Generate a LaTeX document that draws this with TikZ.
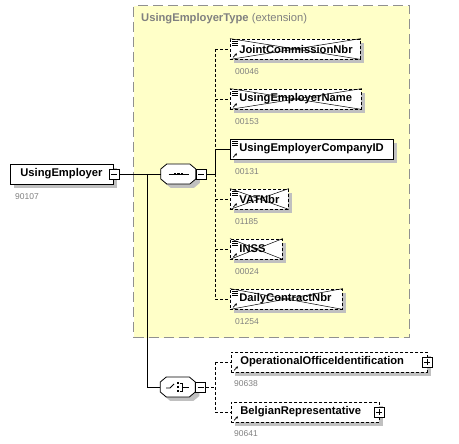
\documentclass[tikz,border=0pt]{standalone}
\usepackage{fontspec}
\setmainfont{Liberation Sans}
\usetikzlibrary{shadows,calc,arrows.meta}
\definecolor{ybg}{HTML}{FFFFC8}
\definecolor{shadowgray}{HTML}{C0C0C0}
\definecolor{numgray}{HTML}{808080}
\definecolor{framegray}{HTML}{909090}
\tikzset{
  elem/.style={draw, fill=white, line width=0.8pt, minimum height=20pt, inner xsep=0pt, inner ysep=0pt,
    anchor=west, align=left, font=\bfseries\fontsize{11.2}{13}\selectfont,
    drop shadow={shadow xshift=4pt, shadow yshift=-4pt, fill=shadowgray, opacity=1}},
  opt/.style={elem, dash pattern=on 3pt off 2pt},
  num/.style={anchor=west, inner sep=0pt, text=numgray, font=\fontsize{8.5}{10}\selectfont},
  pmbox/.style={draw, fill=white, minimum size=10pt, inner sep=0pt, line width=0.6pt},
  minusbox/.style={pmbox, path picture={\draw[line width=0.6pt] ([xshift=2pt]path picture bounding box.west) -- ([xshift=-2pt]path picture bounding box.east);}},
  plusbox/.style={pmbox, path picture={\draw[line width=0.6pt] ([xshift=2pt]path picture bounding box.west) -- ([xshift=-2pt]path picture bounding box.east) ([yshift=-2pt]path picture bounding box.north) -- ([yshift=2pt]path picture bounding box.south);}},
  conn/.style={line width=0.8pt},
  dconn/.style={line width=0.8pt, dash pattern=on 3pt off 2pt},
  cross/.style={line width=0.5pt},
  comp/.style={minimum width=35pt, minimum height=20pt, inner sep=0pt},
}
\newcommand\lines[1]{%
  \draw[line width=0.5pt] ([shift={(2,3)}]#1.north west) -- ++(6,0) ([shift={(2,5)}]#1.north west) -- ++(6,0) ([shift={(2,7)}]#1.north west) -- ++(6,0);}
\newcommand\refarrow[1]{%
  \draw[line width=0.7pt, -{Stealth[length=2.5pt,width=2.5pt]}] ([shift={(3,-2)}]#1.south west) -- ++(4,-4);}
\newcommand\crossout[1]{%
  \draw[cross] (#1.north west) -- (#1.south east) (#1.south west) -- (#1.north east);}
\newcommand\octa[2]{%
  \path[fill=shadowgray] ([shift={(4,4)}]#1.west) ++(0,-5) -- ++(6,-5) -- ++(23,0) -- ++(6,5) -- ++(0,10) -- ++(-6,5) -- ++(-23,0) -- ++(-6,-5) -- cycle;
  \draw[fill=white, line width=0.8pt] (#1.west) ++(0,-5) -- ++(6,-5) -- ++(23,0) -- ++(6,5) -- ++(0,10) -- ++(-6,5) -- ++(-23,0) -- ++(-6,-5) -- cycle;}
\begin{document}
\begin{tikzpicture}[x=1pt,y=-1pt]
\useasboundingbox (0,0) rectangle (459,444);
% extension frame
\node[draw=framegray, fill=ybg, line width=1.3pt, dash pattern=on 10pt off 5pt, minimum width=276pt, minimum height=332pt, inner sep=0pt, anchor=north west] (ext) at (133,5) {};
\node[anchor=west, inner sep=0pt, text=numgray, font=\fontsize{11.2}{13}\selectfont] (title) at (141,19) {\textbf{UsingEmployerType} (extension)};

% root element
\node[elem, text width=103pt] (ue) at (10,174) {\hspace*{10pt}UsingEmployer};
\node[num] (uen) at ([shift={(5,12)}]ue.south west) {90107};
\node[minusbox] (uem) at (ue.east) {};

% compositors
\node[comp] (seq) at (178.5,174) {};
\octa{seq}{}
\node[minusbox] (seqm) at ([xshift=5pt]seq.east) {};
\draw[line width=0.8pt] ([xshift=-10pt]seq.center) -- ([xshift=10pt]seq.center);
\fill ([shift={(-4.8,-1.3)}]seq.center) rectangle ++(2.6,2.6);
\fill ([shift={(-1.3,-1.3)}]seq.center) rectangle ++(2.6,2.6);
\fill ([shift={(2.2,-1.3)}]seq.center) rectangle ++(2.6,2.6);

\node[comp] (cho) at (178,387) {};
\octa{cho}{}
\node[minusbox] (chom) at ([xshift=5pt]cho.east) {};
\draw[line width=0.8pt] ([shift={(-12,1)}]cho.center) -- ++(4,0) -- ++(4,-4);
\fill ([shift={(-1.3,-5.3)}]cho.center) rectangle ++(2.6,2.6);
\fill ([shift={(-1.3,-1.3)}]cho.center) rectangle ++(2.6,2.6);
\fill ([shift={(-1.3,2.7)}]cho.center) rectangle ++(2.6,2.6);
\draw[line width=0.7pt] ([shift={(2,-4)}]cho.center) -- ++(2.5,0) -- ++(0,8) -- ++(-2.5,0) ([shift={(4.5,0)}]cho.center) -- ++(6,0);

% sequence children
\node[opt, text width=130pt] (jcn) at (230,49) {\hspace*{9pt}JointCommissionNbr};
\node[opt, text width=131pt] (uemp) at (230,99) {\hspace*{9pt}UsingEmployerName};
\node[elem, text width=163pt] (ucid) at (230,149) {\hspace*{9pt}UsingEmployerCompanyID};
\node[opt, text width=58pt] (vat) at (230,199) {\hspace*{9pt}VATNbr};
\node[opt, text width=52pt] (inss) at (230,249) {\hspace*{9pt}INSS};
\node[opt, text width=112pt] (dcn) at (230,299) {\hspace*{9pt}DailyContractNbr};
\foreach \n in {jcn,uemp,vat,inss,dcn} {\crossout{\n}}
\foreach \n in {jcn,uemp,ucid,vat,inss,dcn} {\lines{\n}\refarrow{\n}}
\node[num] at ([shift={(5,12)}]jcn.south west) {00046};
\node[num] at ([shift={(5,12)}]uemp.south west) {00153};
\node[num] at ([shift={(5,12)}]ucid.south west) {00131};
\node[num] at ([shift={(5,12)}]vat.south west) {01185};
\node[num] at ([shift={(5,12)}]inss.south west) {00024};
\node[num] at ([shift={(5,12)}]dcn.south west) {01254};

% choice children
\node[opt, text width=196pt] (ooi) at (231,362) {\hspace*{9pt}OperationalOfficeIdentification};
\node[opt, text width=148pt] (br) at (231,412) {\hspace*{9pt}BelgianRepresentative};
\node[plusbox] (ooip) at ([xshift=-1pt]ooi.east) {};
\node[plusbox] (brp) at ([xshift=-1pt]br.east) {};
\refarrow{ooi}\refarrow{br}
\node[num] at ([shift={(3,11)}]ooi.south west) {90638};
\node[num] at ([shift={(3,11)}]br.south west) {90641};

% connectors
\coordinate (b1) at (147,174);
\coordinate (b2) at (147,387);
\draw[conn] (uem.east) -- (seq.west);
\draw[conn] (b1) -- (b2) -- (cho.west);

\coordinate (s1) at (215,174);
\draw[conn] (seqm.east) -- (s1);
\draw[dconn] (s1 |- jcn.west) -- (s1 |- ucid.west);
\draw[conn] (s1 |- ucid.west) -- (s1);
\draw[dconn] (s1) -- (s1 |- dcn.west);
\foreach \n in {jcn,uemp,vat,inss,dcn} {\draw[dconn] (s1 |- \n.west) -- (\n.west);}
\draw[conn] (s1 |- ucid.west) -- (ucid.west);

\coordinate (c1) at (215,387);
\draw[dconn] (chom.east) -- (c1);
\draw[dconn] (c1 |- ooi.west) -- (c1 |- br.west);
\draw[dconn] (c1 |- ooi.west) -- (ooi.west);
\draw[dconn] (c1 |- br.west) -- (br.west);
\end{tikzpicture}
\end{document}
